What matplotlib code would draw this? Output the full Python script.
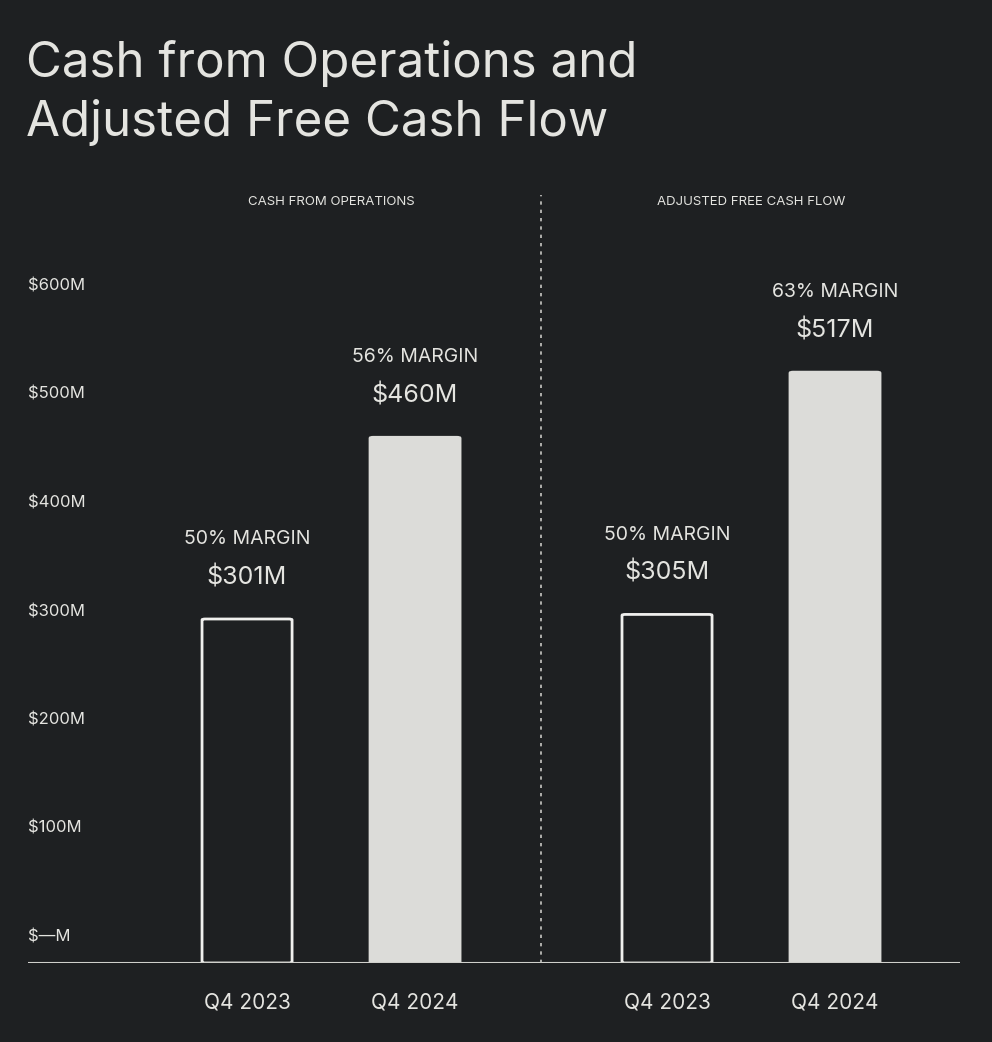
import matplotlib.pyplot as plt
from matplotlib.patches import FancyBboxPatch

plt.rcParams['font.family'] = ['Inter', 'DejaVu Sans']

groups = ['CASH FROM OPERATIONS', 'ADJUSTED FREE CASH FLOW']
quarters = ['Q4 2023', 'Q4 2024', 'Q4 2023', 'Q4 2024']
values = [301, 460, 305, 517]
margins = ['50% MARGIN', '56% MARGIN', '50% MARGIN', '63% MARGIN']
filled = [False, True, False, True]
ylabels = ['$—M', '$100M', '$200M', '$300M', '$400M', '$500M', '$600M']

bg = '#1e2022'
fg = '#e4e4e0'
pos = [0, 1, 2.5, 3.5]
px = 768 / 672  # pixels per $M

fig = plt.figure(figsize=(9.92, 10.42), dpi=100, facecolor=bg)
W, H = 992, 1042
ax = fig.add_axes([28 / W, (H - 963) / H, 932 / W, 768 / H])
ax.set_facecolor(bg)
ax.set_xlim(-1.304, 4.244)
ax.set_ylim(0, 672)
ax.axis('off')

for p, v, m, f in zip(pos, values, margins, filled):
    box = FancyBboxPatch((p - 0.268, 0), 0.536, v,
                         boxstyle='round,pad=0,rounding_size=0.02',
                         mutation_aspect=40,
                         facecolor='#dcdcd9' if f else bg,
                         edgecolor='#dcdcd9' if f else '#f0f0ee', lw=2)
    ax.add_patch(box)
    ax.text(p, v + 26, f'${v}M', ha='center', va='bottom', color=fg, fontsize=18)
    ax.text(p, v + 62, m, ha='center', va='bottom', color=fg, fontsize=14)

ax.axhline(0, color='#d0d0cc', lw=1.5)
ax.plot([1.75, 1.75], [0, 672], color='#c8c8c4', lw=1.2, ls=(0, (2, 3)))

# tick labels in the source sit on their own (slightly compressed) scale
for i, lab in enumerate(ylabels):
    ax.text(-1.304, (26 + 108.5 * i) / px, lab, ha='left', va='center', color=fg, fontsize=12)

for p, q in zip(pos, quarters):
    ax.text(p, -35, q, ha='center', va='center', color=fg, fontsize=15)

ax.text(0.5, 666, groups[0], ha='center', va='center', color=fg, fontsize=9.5)
ax.text(3.0, 666, groups[1], ha='center', va='center', color=fg, fontsize=9.5)

fig.text(26 / W, 1 - 40 / H, 'Cash from Operations and\nAdjusted Free Cash Flow',
         ha='left', va='top', color=fg, fontsize=35.5, linespacing=1.32)

fig.savefig('out.png', dpi=100, facecolor=bg)
